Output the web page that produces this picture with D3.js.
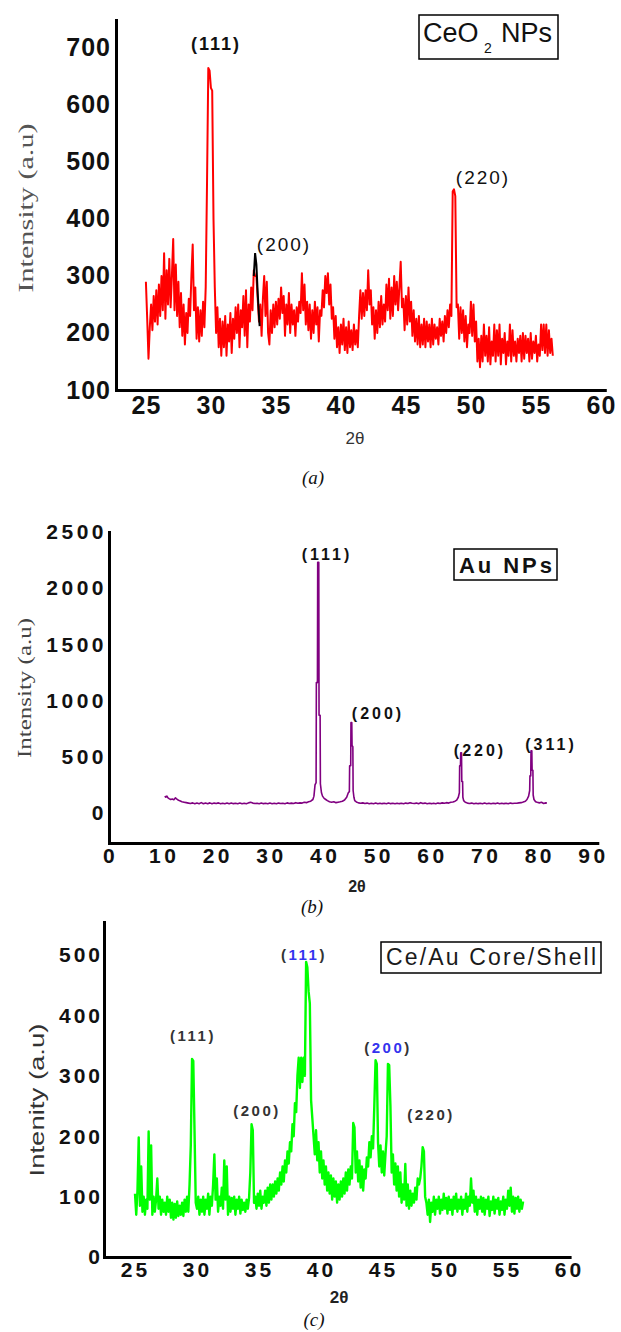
<!DOCTYPE html>
<html><head><meta charset="utf-8">
<script src="https://cdn.jsdelivr.net/npm/d3@7"></script>
<style>html,body{margin:0;padding:0;background:#fff}svg{display:block}</style>
</head><body>
<svg id="chart" width="621" height="1332"></svg>
<script>
// ---------- DATA ----------
// (a) CeO2 NPs : intensity every 0.1 deg from 25.0 to 56.3
const ceo2Start = 25.0, ceo2Step = 0.1;
const ceo2Intensity = [
290,225,155,210,250,205,265,220,275,215,
285,230,300,240,340,225,310,250,330,245,
300,365,240,320,230,290,210,270,195,250,
180,235,200,260,230,300,355,240,280,190,
245,185,240,195,255,210,280,460,665,660,
630,625,400,280,200,245,175,225,160,220,
175,230,160,215,185,235,165,225,190,245,
200,250,175,240,210,265,195,275,175,250,
220,280,240,310,300,300,260,220,250,195,
260,300,230,290,200,180,240,200,250,210,
255,215,260,225,280,235,265,195,250,215,
270,200,250,215,240,195,245,220,255,235,
305,240,285,215,255,205,250,190,240,200,
255,215,245,185,240,230,275,245,300,270,
305,250,285,225,245,190,230,175,210,165,
215,180,225,170,210,165,220,175,205,170,
215,180,205,175,230,275,225,270,230,275,
240,310,250,275,215,245,190,240,200,255,
210,265,215,250,220,285,240,295,225,280,
230,300,250,290,240,280,325,245,260,205,
265,215,280,220,255,195,240,185,225,180,
230,175,215,180,225,175,220,185,215,175,
225,180,215,190,210,180,225,195,220,185,
230,200,240,210,250,230,448,452,440,245,
250,190,245,200,240,185,230,175,215,200,
255,195,250,185,220,150,190,140,195,150,
215,160,195,150,210,145,185,160,215,150,
205,160,215,145,190,165,200,145,185,160,
215,150,205,160,185,150,190,165,195,150,
200,155,195,165,190,150,200,155,185,165,
195,150,180,160,215,170,215,165,215,160,
205,165,190,160
];
// black (200) marker segment [2theta, intensity]
const ceo2Marker200 = [[33.3,300],[33.4,340],[33.5,320],[33.6,270],[33.7,230],[33.75,212]];
const ceo2XTicks = [25,30,35,40,45,50,55,60];
const ceo2YTicks = [100,200,300,400,500,600,700];
const ceo2PeakLabels = ["(111)","(200)","(220)"];

// (b) Au NPs : [2theta, intensity]
const auPattern = [
[10.2,150],[10.4,140],[10.6,150],[10.8,135],[11.0,128],[11.3,120],[11.6,125],[11.9,118],[12.2,135],[12.4,125],
[12.7,115],[13.0,108],[13.4,100],[13.8,96],[14.2,92],[14.6,88],[15.0,84],[15.4,90],[15.8,82],[16.2,88],
[16.6,83],[17.0,92],[17.4,82],[17.8,88],[18.2,83],[18.6,90],[19.0,82],[19.4,88],[19.8,84],[20.2,90],
[20.6,82],[21.0,87],[21.4,83],[21.8,89],[22.2,82],[22.6,88],[23.0,83],[23.4,86],[23.8,82],[24.2,88],
[24.6,83],[25.0,87],[25.4,82],[25.8,90],[26.2,95],[26.6,88],[27.0,84],[27.4,87],[27.8,82],[28.2,88],
[28.6,83],[29.0,86],[29.4,82],[29.8,88],[30.2,83],[30.6,87],[31.0,82],[31.4,88],[31.8,84],[32.2,86],
[32.6,82],[33.0,90],[33.4,84],[33.8,88],[34.2,85],[34.6,92],[35.0,86],[35.4,90],[35.8,88],[36.2,95],
[36.6,92],[37.0,100],[37.4,105],[37.8,120],[38.0,150],[38.2,250],[38.4,270],[38.45,1160],[38.65,1160],[38.7,2230],
[38.9,2230],[38.95,870],[39.15,870],[39.2,260],[39.4,180],[39.6,150],[39.9,130],[40.2,120],[40.5,110],[40.9,100],
[41.3,95],[41.7,100],[42.1,92],[42.5,96],[42.9,100],[43.3,105],[43.7,115],[44.1,140],[44.4,180],[44.6,190],
[44.65,420],[44.85,420],[44.9,804],[45.05,804],[45.1,600],[45.25,590],[45.3,200],[45.45,140],[45.6,110],[45.9,98],
[46.3,90],[46.7,86],[47.1,90],[47.5,84],[47.9,88],[48.3,82],[48.7,87],[49.1,83],[49.5,88],[49.9,82],
[50.3,87],[50.7,83],[51.1,86],[51.5,82],[51.9,88],[52.3,83],[52.7,86],[53.1,82],[53.5,87],[53.9,83],
[54.3,86],[54.7,82],[55.1,88],[55.5,84],[55.9,92],[56.3,86],[56.7,84],[57.1,88],[57.5,82],[57.9,92],
[58.3,84],[58.7,88],[59.1,82],[59.5,86],[59.9,83],[60.3,87],[60.7,82],[61.1,88],[61.5,84],[61.9,90],
[62.3,86],[62.7,92],[63.1,88],[63.5,95],[63.9,98],[64.3,105],[64.6,115],[64.9,140],[65.1,180],[65.15,420],
[65.3,420],[65.35,536],[65.5,536],[65.55,280],[65.7,280],[65.75,140],[65.9,110],[66.2,95],[66.6,88],[67.0,84],
[67.4,88],[67.8,82],[68.2,87],[68.6,83],[69.0,86],[69.4,82],[69.8,88],[70.2,83],[70.6,87],[71.0,82],
[71.4,86],[71.8,83],[72.2,88],[72.6,82],[73.0,87],[73.4,83],[73.8,86],[74.2,82],[74.6,88],[75.0,84],
[75.4,87],[75.8,86],[76.2,90],[76.6,92],[77.0,98],[77.4,105],[77.7,120],[78.0,150],[78.2,200],[78.25,330],
[78.4,330],[78.45,554],[78.6,554],[78.65,380],[78.8,380],[78.85,160],[79.0,120],[79.3,100],[79.6,95],[80.0,90],
[80.4,95],[80.8,85],[81.2,90],[81.4,88]
];
const auXTicks = [0,10,20,30,40,50,60,70,80,90];
const auYTicks = [0,500,1000,1500,2000,2500];
const auPeakLabels = ["(111)","(200)","(220)","(311)"];

// (c) Ce/Au core/shell : intensity every 0.1 deg from 25.0 to 56.3
const csStart = 25.0, csStep = 0.1;
const csIntensity = [
105,70,110,198,85,150,75,100,70,95,
80,208,95,185,70,100,75,95,130,80,
100,70,95,75,90,70,100,75,95,65,
90,62,88,65,92,68,85,70,90,68,
95,75,100,75,120,185,328,325,210,90,
80,100,70,95,75,100,70,95,80,105,
70,100,85,120,170,95,130,75,100,85,
115,80,160,95,150,70,100,75,98,80,
100,70,95,80,100,72,95,78,90,75,
95,80,98,140,220,210,90,100,80,105,
85,110,80,100,90,110,85,115,90,120,
95,120,100,125,105,130,110,140,120,150,
125,160,140,175,155,190,175,220,200,255,
240,300,330,280,330,290,330,300,489,480,
440,420,260,230,200,170,210,160,190,140,
175,130,160,120,150,110,140,105,135,95,
130,100,125,90,120,95,125,100,130,105,
140,110,145,120,150,130,222,215,140,175,
125,160,115,150,110,145,130,165,150,190,
165,200,180,250,326,320,190,150,185,140,
175,135,170,200,320,318,250,140,170,120,
155,110,150,100,140,90,120,95,154,85,
120,80,110,85,105,90,115,95,130,120,
130,150,182,175,100,90,70,95,58,90,
75,100,70,95,80,100,72,95,78,105,
80,98,72,100,78,95,70,100,80,105,
75,95,80,100,70,95,80,105,75,100,
85,130,90,110,75,100,70,95,80,100,
75,98,70,95,80,100,68,92,78,100,
72,95,80,98,70,92,78,100,70,95,
80,110,85,115,75,100,72,98,80,100,
75,95,80,92
];
const csXTicks = [25,30,35,40,45,50,55,60];
const csYTicks = [0,100,200,300,400,500];
const csPeakLabels = ["(111)","(200)","(111)","(200)","(220)"];

// ---------- DRAWING ----------
const svg = d3.select("#chart");
const SANS = "'Liberation Sans', Arial, Helvetica, sans-serif";
const SERIF = "'Liberation Serif', 'Times New Roman', serif";

function axes(x, y, xTicks, yTicks, o) {
  const y0 = y.range()[0], x0 = x.range()[0];
  const gx = svg.append("g").attr("transform", `translate(0,${y0})`)
    .call(d3.axisBottom(x).tickValues(xTicks).tickSize(0).tickSizeOuter(0).tickPadding(o.padX).tickFormat(d3.format("d")));
  const gy = svg.append("g").attr("transform", `translate(${x0},0)`)
    .call(d3.axisLeft(y).tickValues(yTicks).tickSize(0).tickSizeOuter(0).tickPadding(o.padY).tickFormat(d3.format("d")));
  [gx, gy].forEach(g => {
    g.select(".domain").attr("stroke", "#000").attr("stroke-width", 3).attr("stroke-linecap", "square");
    g.selectAll("text").attr("font-family", SANS).attr("font-size", o.fs).attr("font-weight", "bold")
      .attr("fill", "#111").attr("letter-spacing", o.ls);
  });
}
function label(txt, x, y, o) {
  return svg.append("text").attr("x", x).attr("y", y).attr("text-anchor", o.anchor || "middle")
    .attr("font-family", o.family || SANS).attr("font-size", o.fs).attr("font-weight", o.fw || "normal")
    .attr("font-style", o.style || "normal").attr("fill", o.fill || "#111")
    .attr("letter-spacing", o.ls || 0).text(txt);
}
function yTitle(txt, cx, cy, o) {
  svg.append("text").attr("transform", `translate(${cx},${cy}) rotate(-90)`).attr("text-anchor", "middle")
    .attr("font-family", o.family).attr("font-size", o.fs).attr("fill", o.fill)
    .attr("textLength", o.len).attr("lengthAdjust", "spacingAndGlyphs").text(txt);
}

// ===== Panel (a) =====
const xA = d3.scaleLinear().domain([22.7, 60.3]).range([116, 604.8]);
const yA = d3.scaleLinear().domain([100, 749]).range([390, 20]);
const ceo2Data = ceo2Intensity.map((v, i) => [ceo2Start + i * ceo2Step, v]);
const lineA = d3.line().x(d => xA(d[0])).y(d => yA(d[1]));
svg.append("path").datum(ceo2Data).attr("d", lineA).attr("fill", "none")
  .attr("stroke", "#ff0000").attr("stroke-width", 2).attr("stroke-linejoin", "round");
svg.append("path").datum(ceo2Marker200).attr("d", lineA).attr("fill", "none")
  .attr("stroke", "#000").attr("stroke-width", 2);
axes(xA, yA, ceo2XTicks, ceo2YTicks, {fs: 25, ls: 1, padX: 6, padY: 5});
label(ceo2PeakLabels[0], 216, 50, {fs: 18, fw: "bold", ls: 2});
label(ceo2PeakLabels[1], 284, 251, {fs: 19, ls: 2});
label(ceo2PeakLabels[2], 483, 184, {fs: 19, ls: 2});
svg.append("rect").attr("x", 419).attr("y", 15).attr("width", 139).attr("height", 44)
  .attr("fill", "#fff").attr("stroke", "#000").attr("stroke-width", 1.5);
label("CeO", 423, 42, {fs: 27, anchor: "start"});
label("2", 484, 53, {fs: 14, anchor: "start"});
label("NPs", 501, 42, {fs: 27, anchor: "start"});
yTitle("Intensity (a.u)", 33, 208, {family: SERIF, fs: 22, fill: "#555", len: 169});
label("2θ", 355, 444, {fs: 17, fill: "#333"});
label("(a)", 313, 484, {family: SERIF, fs: 19, style: "italic"});

// ===== Panel (b) =====
const xB = d3.scaleLinear().domain([-0.19, 90.8]).range([109, 597.3]);
const yB = d3.scaleLinear().domain([-267, 2500]).range([843, 532]);
const lineB = d3.line().x(d => xB(d[0])).y(d => yB(d[1]));
svg.append("path").datum(auPattern).attr("d", lineB).attr("fill", "none")
  .attr("stroke", "#800080").attr("stroke-width", 1.6).attr("stroke-linejoin", "round");
axes(xB, yB, auXTicks, auYTicks, {fs: 21, ls: 3.5, padX: 5, padY: 2});
label(auPeakLabels[0], 327, 560, {fs: 16, fw: "bold", ls: 3});
label(auPeakLabels[1], 378, 719, {fs: 16, fw: "bold", ls: 3});
label(auPeakLabels[2], 480, 756, {fs: 16, fw: "bold", ls: 3});
label(auPeakLabels[3], 551, 750, {fs: 16, fw: "bold", ls: 3});
svg.append("rect").attr("x", 454).attr("y", 549).attr("width", 103).attr("height", 31)
  .attr("fill", "#fff").attr("stroke", "#000").attr("stroke-width", 1.5);
svg.append("text").attr("x", 459).attr("y", 573).attr("font-family", SANS).attr("font-size", 22)
  .attr("font-weight", "bold").attr("fill", "#111").attr("textLength", 93).attr("lengthAdjust", "spacing").text("Au NPs");
yTitle("Intensity (a.u)", 31, 688, {family: SERIF, fs: 19, fill: "#444", len: 140});
label("2θ", 357, 892, {fs: 16, fw: "bold", fill: "#222"});
label("(b)", 312, 913, {family: SERIF, fs: 19, style: "italic"});

// ===== Panel (c) =====
const xC = d3.scaleLinear().domain([22.5, 60.05]).range([104, 569.6]);
const yC = d3.scaleLinear().domain([0, 555]).range([1257, 922]);
const csData = csIntensity.map((v, i) => [csStart + i * csStep, v]);
const lineC = d3.line().x(d => xC(d[0])).y(d => yC(d[1]));
svg.append("path").datum(csData).attr("d", lineC).attr("fill", "none")
  .attr("stroke", "#00ff00").attr("stroke-width", 2.4).attr("stroke-linejoin", "round");
axes(xC, yC, csXTicks, csYTicks, {fs: 21, ls: 3, padX: 5, padY: 1});
function csPeak(txt, x, y, blue) {
  const t = svg.append("text").attr("x", x).attr("y", y).attr("text-anchor", "middle")
    .attr("font-family", SANS).attr("font-size", 15).attr("font-weight", "bold")
    .attr("letter-spacing", 2.5).attr("fill", "#333");
  if (blue) {
    t.append("tspan").text(txt.slice(0, 1));
    t.append("tspan").attr("fill", "#3333ee").text(txt.slice(1, -1));
    t.append("tspan").text(txt.slice(-1));
  } else t.text(txt);
}
csPeak(csPeakLabels[0], 193, 1041, false);
csPeak(csPeakLabels[1], 257, 1116, false);
csPeak(csPeakLabels[2], 304, 960, true);
csPeak(csPeakLabels[3], 388, 1053, true);
csPeak(csPeakLabels[4], 431, 1120, false);
svg.append("rect").attr("x", 381).attr("y", 942).attr("width", 220).attr("height", 31)
  .attr("fill", "#fff").attr("stroke", "#000").attr("stroke-width", 1.5);
svg.append("text").attr("x", 386).attr("y", 965).attr("font-family", SANS).attr("font-size", 23)
  .attr("fill", "#1a1a1a").attr("textLength", 210).attr("lengthAdjust", "spacing").text("Ce/Au Core/Shell");
yTitle("Intenity (a.u)", 44, 1100, {family: SANS, fs: 20, fill: "#333", len: 153});
label("2θ", 339, 1303, {fs: 17, fw: "bold", fill: "#222"});
label("(c)", 314, 1326, {family: SERIF, fs: 19, style: "italic"});
</script>
</body></html>
